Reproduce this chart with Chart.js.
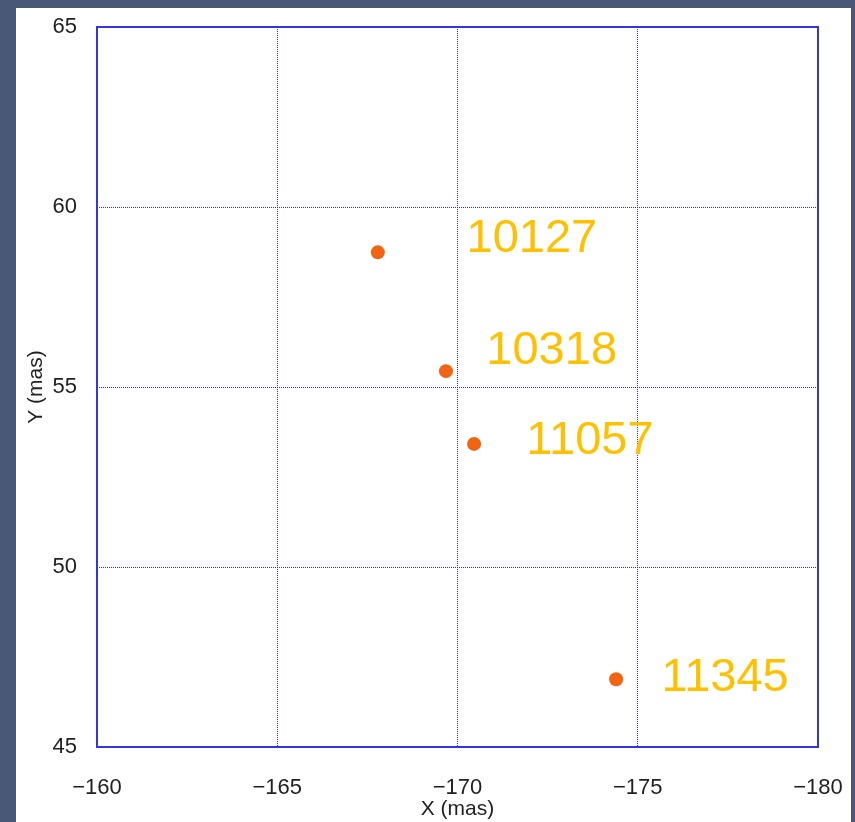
<!DOCTYPE html>
<html>
<head>
<meta charset="utf-8">
<script src="https://cdn.jsdelivr.net/npm/chart.js@4"></script>
<style>
  html, body { margin: 0; padding: 0; }
  body { width: 855px; height: 822px; background: #4a5878; position: relative; overflow: hidden; }
  #panel { position: absolute; left: 16px; top: 8px; width: 835px; height: 814px; background: #ffffff; }
  #chart { display: block; }
</style>
</head>
<body>
<div id="panel"><canvas id="chart" width="835" height="814"></canvas></div>
<script>
// Epoch identifiers and measured positions (milliarcseconds)
const epochs = ['10127', '10318', '11057', '11345'];
const xMas = [-167.79, -169.68, -170.46, -174.40];
const yMas = [58.74, 55.44, 53.42, 46.88];

// Where each epoch's name is written, in the same data units
const labelX = [-170.25, -170.80, -171.91, -175.66];
const labelY = [59.11, 55.99, 53.50, 46.92];

// Axis ranges and tick step
const xRange = [-180, -160];
const yRange = [45, 65];
const tickStep = 5;

const points = epochs.map((e, i) => ({ x: xMas[i], y: yMas[i] }));
const minusSign = v => String(v).replace('-', '\u2212');

// Solid blue frame around the plotting area
const framePlugin = {
  id: 'frame',
  afterDraw(chart) {
    const a = chart.chartArea, ctx = chart.ctx;
    ctx.save();
    ctx.strokeStyle = '#3434e6';
    ctx.lineWidth = 2;
    ctx.strokeRect(a.left, a.top, a.right - a.left, a.bottom - a.top);
    ctx.restore();
  }
};

// Epoch names next to the points
const epochLabels = {
  id: 'epochLabels',
  afterDatasetsDraw(chart) {
    const ctx = chart.ctx, xs = chart.scales.x, ys = chart.scales.y;
    ctx.save();
    ctx.fillStyle = '#ffc000';
    ctx.font = '47px "Liberation Sans", Arial, sans-serif';
    ctx.textAlign = 'left';
    ctx.textBaseline = 'middle';
    epochs.forEach((name, i) => {
      ctx.fillText(name, xs.getPixelForValue(labelX[i]), ys.getPixelForValue(labelY[i]));
    });
    ctx.restore();
  }
};

const tickFont = { family: '"Liberation Sans Narrow", "Liberation Sans", sans-serif', size: 22 };
const titleFont = { family: '"Liberation Sans Narrow", "Liberation Sans", sans-serif', size: 21 };
const gridStyle = { color: '#2a2aff', lineWidth: 1, drawTicks: false };

new Chart(document.getElementById('chart'), {
  type: 'scatter',
  data: {
    datasets: [{
      label: 'position',
      data: points,
      backgroundColor: '#f06414',
      borderColor: '#f06414',
      borderWidth: 0,
      pointRadius: 7,
      pointHoverRadius: 7
    }]
  },
  options: {
    responsive: false,
    animation: false,
    devicePixelRatio: 1,
    layout: { padding: { top: 19, right: 33, left: 0, bottom: 0 } },
    plugins: { legend: { display: false }, tooltip: { enabled: false } },
    scales: {
      x: {
        type: 'linear',
        min: xRange[0],
        max: xRange[1],
        reverse: true,
        afterFit: s => { s.height = 75; s.paddingLeft = 0; s.paddingRight = 0; },
        ticks: {
          stepSize: tickStep,
          padding: 28,
          color: '#222222',
          font: tickFont,
          maxRotation: 0,
          callback: minusSign
        },
        grid: gridStyle,
        border: { display: false, dash: [1, 1] },
        title: { display: true, text: 'X (mas)', color: '#222222', font: titleFont, padding: { top: 2, bottom: 0 } }
      },
      y: {
        type: 'linear',
        min: yRange[0],
        max: yRange[1],
        afterFit: s => { s.width = 81; s.paddingTop = 0; s.paddingBottom = 0; },
        ticks: {
          stepSize: tickStep,
          padding: 20,
          color: '#222222',
          font: tickFont,
          callback: minusSign
        },
        grid: gridStyle,
        border: { display: false, dash: [1, 1] },
        title: { display: true, text: 'Y (mas)', color: '#222222', font: titleFont, padding: { top: 8, bottom: 0 } }
      }
    }
  },
  plugins: [framePlugin, epochLabels]
});
</script>
</body>
</html>
